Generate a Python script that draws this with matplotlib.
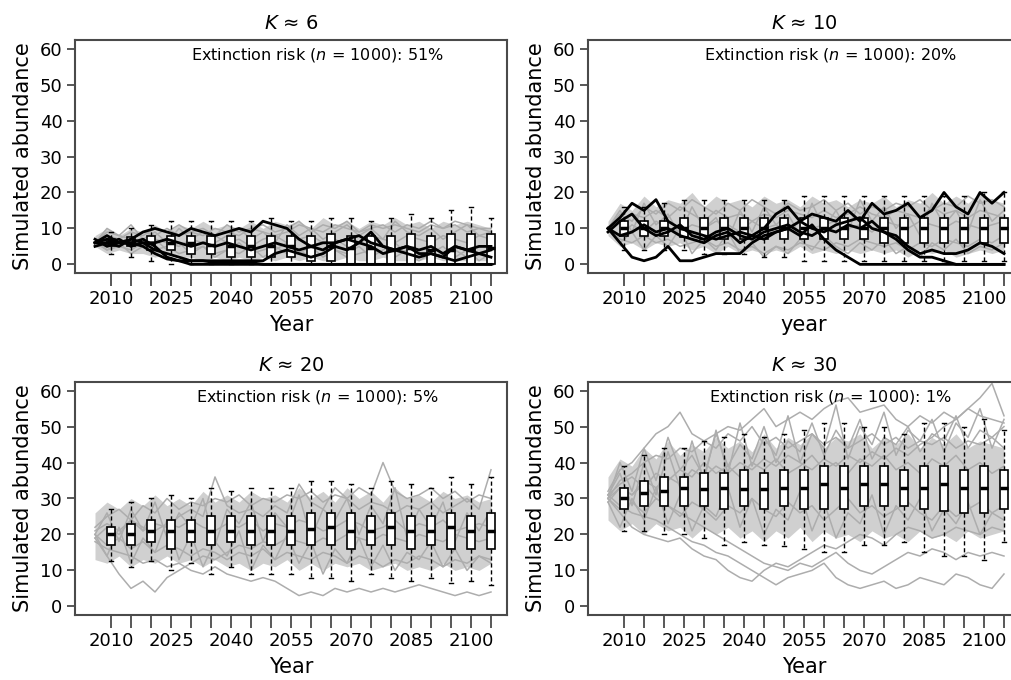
import matplotlib
matplotlib.use("Agg")
import matplotlib.pyplot as plt

plt.rcParams['font.family'] = ['DejaVu Sans']

# simulated years (every 3rd year of the runs) and boxplot years
YEARS = list(range(2006, 2106, 3))
BOX_YEARS = list(range(2010, 2106, 5))
TICK_LABELS = ['2010', '', '', '2025', '', '', '2040', '', '', '2055', '', '',
               '2070', '', '', '2085', '', '', '2100', '']

# ---- K ~ 6 ----
K6_BAND_LO = [5, 3, 4, 3, 3, 2, 3, 2, 2, 1, 2, 1, 2, 1, 2, 1, 2,
              1, 2, 1, 1, 2, 1, 1, 2, 1, 1, 1, 2, 1, 1, 1, 1, 1]
K6_BAND_HI = [8, 10, 8, 10, 9, 11, 9, 11, 10, 12, 10, 11, 10, 12, 10, 12, 11,
              12, 10, 13, 11, 12, 10, 12, 11, 13, 11, 12, 10, 12, 11, 12, 11, 10]
K6_GREY = [
    [6, 8, 7, 9, 8, 10, 9, 11, 9, 10, 8, 11, 9, 10, 11, 9, 10, 12, 9, 11, 10, 12, 9, 10, 11, 9, 11, 10, 12, 10, 11, 9, 10, 9],
    [6, 5, 7, 6, 5, 7, 6, 5, 7, 6, 8, 6, 7, 5, 7, 8, 6, 7, 8, 6, 7, 5, 6, 8, 7, 6, 8, 7, 6, 8, 7, 6, 8, 7],
    [7, 4, 5, 4, 6, 4, 5, 3, 4, 5, 3, 4, 6, 3, 4, 5, 3, 4, 2, 3, 4, 2, 3, 4, 3, 2, 4, 3, 2, 3, 4, 2, 3, 2],
    [6, 9, 8, 7, 9, 8, 10, 8, 9, 8, 10, 9, 8, 10, 9, 8, 9, 11, 10, 9, 11, 10, 9, 11, 10, 11, 10, 9, 11, 10, 12, 11, 10, 10],
    [6, 10, 8, 11, 7, 9, 6, 10, 7, 9, 6, 8, 10, 7, 9, 6, 11, 8, 10, 7, 9, 11, 8, 10, 7, 12, 9, 8, 10, 7, 9, 11, 8, 9],
    [6, 4, 6, 3, 5, 7, 4, 6, 3, 5, 2, 4, 3, 5, 2, 4, 6, 3, 5, 2, 4, 3, 5, 2, 4, 6, 3, 1, 3, 5, 2, 4, 1, 3],
]
K6_BLACK = [
    [6, 8, 6, 7, 9, 10, 9, 8, 10, 9, 8, 9, 10, 9, 12, 11, 10, 7, 5, 6, 6, 7, 8, 6, 5, 4, 5, 4, 5, 3, 5, 4, 5, 5],
    [6, 7, 6, 6, 7, 5, 2, 1, 0, 0, 0, 0, 0, 0, 0, 0, 0, 0, 0, 0, 0, 0, 0, 0, 0, 0, 0, 0, 0, 0, 0, 0, 0, 0],
    [7, 5, 6, 6, 5, 3, 1.5, 1, 1, 1, 0.5, 0.5, 0.5, 0.5, 0, 0, 0, 0, 0, 0, 0, 0, 0, 0, 0, 0, 0, 0, 0, 0, 0, 0, 0, 0],
    [6, 6, 7, 5, 6, 4, 3, 2, 1, 1, 1, 1, 1, 1, 1, 3, 4, 3, 2, 3, 5, 4, 6, 5, 3, 4, 3, 2, 3, 2, 1, 2, 3, 2],
    [5, 6, 5, 7, 6, 6, 7, 6, 5, 6, 5, 6, 5, 4, 5, 6, 5, 4, 5, 4, 6, 7, 6, 9, 5, 4, 5, 3, 3, 2, 5, 4, 3, 4],
]
# (lower whisker, q1, median, q3, upper whisker)
K6_BOXES = [(3, 5, 6, 7, 9), (2, 5, 6, 7.5, 10), (1, 4, 6, 8, 11), (0, 4, 6, 8, 12),
            (0, 3, 6, 8, 12), (0, 3, 5.5, 8, 12), (0, 2, 5, 8, 12), (0, 2, 5, 8, 12),
            (0, 2, 5, 8, 13), (0, 2, 5, 8, 12), (0, 1, 5, 8, 12), (0, 1, 5, 8.5, 13),
            (0, 0, 4.5, 8, 13), (0, 0, 4.5, 8, 12), (0, 0, 4, 8, 13), (0, 0, 4.5, 8.5, 14),
            (0, 0, 4, 8, 13), (0, 0, 4, 8.5, 15), (0, 0, 4, 8.5, 16), (0, 0, 4.5, 8.5, 13)]

# ---- K ~ 10 ----
K10_BAND_LO = [8, 5, 6, 4, 6, 5, 6, 4, 5, 3, 5, 3, 4, 3, 4, 3, 5, 3, 4, 3, 4,
               3, 4, 3, 4, 2, 4, 3, 4, 2, 3, 4, 3, 4]
K10_BAND_HI = [12, 17, 15, 19, 16, 18, 17, 20, 16, 19, 17, 18, 16, 19, 17, 18,
               16, 19, 17, 18, 16, 18, 17, 19, 16, 18, 17, 20, 17, 19, 17, 20, 18, 17]
K10_GREY = [
    [10, 14, 12, 16, 14, 17, 15, 18, 16, 14, 17, 15, 18, 16, 14, 17, 15, 16, 18, 15, 17, 14, 16, 15, 17, 16, 18, 15, 17, 16, 19, 17, 18, 16],
    [10, 8, 11, 9, 12, 10, 9, 11, 10, 12, 11, 9, 12, 10, 11, 9, 12, 10, 11, 12, 10, 11, 9, 12, 11, 10, 12, 11, 10, 12, 11, 10, 11, 12],
    [10, 7, 6, 8, 6, 7, 5, 6, 7, 5, 6, 4, 5, 3, 5, 4, 6, 5, 4, 6, 5, 7, 6, 5, 6, 4, 6, 5, 7, 6, 5, 7, 6, 8],
    [10, 12, 14, 13, 15, 13, 16, 14, 12, 15, 13, 14, 12, 14, 13, 15, 14, 13, 15, 13, 14, 16, 14, 13, 15, 14, 13, 16, 14, 15, 13, 15, 14, 13],
    [10, 15, 9, 17, 11, 14, 8, 16, 10, 13, 7, 15, 9, 16, 11, 14, 8, 17, 10, 15, 9, 18, 12, 16, 10, 14, 8, 17, 11, 15, 9, 18, 12, 15],
    [10, 6, 9, 4, 8, 5, 10, 3, 7, 4, 9, 3, 6, 2, 5, 3, 7, 4, 8, 5, 3, 6, 4, 7, 3, 5, 2, 6, 4, 7, 3, 5, 4, 6],
]
K10_BLACK = [
    [10, 13, 17, 15, 18, 12, 10, 9, 8, 7, 8, 9, 8, 10, 14, 16, 12, 14, 13, 12, 15, 12, 17, 14, 15, 17, 13, 15, 20, 16, 14, 20, 17, 20],
    [10, 6, 2, 1, 2, 5, 1, 1, 2, 3, 3, 3, 6, 8, 9, 10, 8, 11, 7, 4, 2, 0, 0, 0, 0, 0, 0, 0, 0, 0, 0, 0, 0, 0],
    [9, 12, 14, 10, 8, 9, 11, 8, 7, 9, 10, 8, 7, 9, 10, 11, 9, 8, 10, 9, 11, 10, 12, 9, 7, 4, 2, 2, 1, 0, 0, 0, 0, 0],
    [10, 8, 9, 11, 9, 10, 8, 7, 6, 8, 9, 6, 8, 7, 9, 10, 12, 10, 9, 11, 12, 13, 10, 9, 8, 5, 3, 4, 3, 3, 4, 6, 5, 3],
]
K10_BOXES = [(4, 8, 10, 12, 16), (4, 8, 10, 12, 16), (4, 8, 10, 12, 17), (4, 7.5, 10, 13, 18),
             (3, 7, 10, 13, 18), (3, 7, 10, 13, 18), (3, 7, 10, 13, 18), (2, 7, 10, 13, 18),
             (2, 7, 10, 13, 18), (1, 7, 10, 13, 19), (1, 7, 10, 13, 19), (1, 7, 10, 13, 19),
             (1, 7, 10, 13, 19), (1, 6, 10, 13, 19), (1, 6, 10, 13, 19), (1, 6, 10, 13, 19),
             (1, 6, 10, 13, 19), (1, 6, 10, 13, 19), (1, 6, 10, 13, 20), (1, 6, 10, 13, 20)]

# ---- K ~ 20 ----
K20_BAND_LO = [13, 12, 14, 11, 13, 12, 14, 12, 13, 11, 13, 11, 12, 10, 12, 11, 13,
               10, 12, 10, 12, 11, 12, 10, 11, 12, 10, 11, 10, 12, 10, 11, 10, 12]
K20_BAND_HI = [26, 29, 27, 30, 28, 31, 28, 30, 28, 32, 29, 31, 29, 32, 30, 31, 29,
               33, 30, 32, 29, 33, 30, 32, 29, 33, 30, 31, 29, 32, 30, 31, 29, 30]
K20_GREY = [
    [20, 14, 9, 5, 7, 4, 8, 10, 12, 14, 13, 15, 17, 16, 18, 17, 19, 18, 17, 19, 18, 20, 19, 18, 20, 19, 18, 20, 19, 18, 20, 19, 18, 19],
    [18, 16, 15, 14, 12, 13, 11, 12, 10, 9, 11, 9, 8, 7, 8, 7, 5, 3, 4, 3, 5, 4, 5, 4, 5, 4, 5, 6, 5, 4, 3, 4, 3, 4],
    [22, 25, 27, 24, 28, 26, 30, 27, 29, 28, 30, 29, 31, 28, 30, 29, 31, 30, 32, 29, 31, 30, 33, 31, 40, 32, 30, 31, 33, 30, 32, 29, 31, 30],
    [19, 22, 20, 24, 21, 23, 22, 25, 27, 25, 36, 28, 26, 27, 25, 28, 26, 34, 29, 27, 33, 30, 27, 29, 28, 26, 28, 27, 29, 26, 28, 30, 27, 38],
    [20, 17, 19, 16, 18, 15, 17, 16, 14, 16, 15, 13, 15, 14, 16, 13, 15, 14, 13, 15, 14, 12, 14, 13, 11, 13, 12, 14, 13, 11, 13, 12, 14, 13],
    [21, 23, 21, 24, 22, 21, 23, 22, 24, 22, 21, 23, 22, 24, 21, 23, 22, 24, 23, 21, 22, 24, 23, 21, 22, 24, 21, 23, 22, 24, 21, 22, 23, 22],
    [20, 26, 18, 27, 21, 29, 19, 26, 22, 30, 17, 27, 23, 29, 18, 26, 22, 31, 19, 27, 24, 30, 20, 28, 23, 33, 19, 27, 22, 29, 18, 26, 21, 27],
    [19, 14, 22, 12, 19, 15, 24, 13, 20, 11, 18, 14, 21, 10, 17, 13, 20, 12, 18, 9, 16, 12, 19, 11, 17, 10, 15, 13, 18, 11, 16, 10, 14, 12],
]
K20_BOXES = [(12.7, 17, 20, 22, 27), (11, 17, 20, 23, 29), (12.5, 18, 21, 24, 30), (10, 16, 21, 24, 31),
             (12, 18, 21, 24, 30), (9, 17, 21, 25, 33), (11, 18, 21, 25, 32), (9, 17, 21, 25, 33),
             (9, 17, 21, 25, 33), (9, 17, 21, 25, 33), (8, 17, 21.5, 26, 35), (8, 17, 22, 26, 35),
             (7, 16, 21, 26, 34), (9, 17, 21, 25, 33), (8, 17, 22, 26, 35), (7, 16, 21, 25, 34),
             (8, 17, 21, 25, 33), (6.5, 16, 22, 26, 36), (7, 16, 21, 25, 34), (6, 16, 21, 26, 36)]

# ---- K ~ 30 ----
K30_BAND_LO = [24, 21, 23, 20, 23, 21, 22, 19, 22, 20, 22, 19, 21, 18, 21, 19, 22,
               18, 21, 19, 20, 18, 21, 19, 20, 18, 21, 19, 20, 18, 21, 19, 20, 21]
K30_BAND_HI = [36, 41, 39, 44, 41, 46, 42, 45, 43, 47, 44, 46, 43, 48, 44, 47, 45,
               48, 44, 47, 46, 48, 44, 47, 45, 48, 44, 47, 45, 48, 44, 46, 45, 44]
K30_GREY = [
    [30, 26, 22, 20, 19, 18, 19, 16, 14, 13, 10, 8, 7, 10, 12, 11, 13, 15, 17, 16, 18, 20, 19, 17, 20, 22, 21, 19, 20, 22, 21, 20, 22, 21],
    [31, 28, 26, 25, 24, 22, 20, 18, 17, 15, 14, 12, 10, 8, 6, 8, 9, 10, 12, 8, 6, 5, 6, 7, 5, 6, 8, 7, 6, 9, 8, 6, 5, 9],
    [30, 33, 31, 34, 30, 28, 26, 24, 22, 20, 18, 16, 14, 12, 11, 10, 12, 11, 13, 15, 12, 10, 9, 11, 13, 15, 14, 16, 15, 13, 15, 14, 15, 14],
    [32, 38, 40, 44, 48, 50, 54, 48, 46, 44, 48, 46, 50, 45, 47, 44, 46, 48, 45, 47, 44, 46, 48, 45, 47, 44, 46, 45, 47, 44, 46, 45, 47, 44],
    [30, 35, 37, 40, 42, 41, 44, 43, 46, 48, 50, 49, 52, 55, 50, 52, 54, 52, 55, 57, 58, 54, 55, 56, 52, 50, 53, 51, 54, 52, 55, 53, 52, 51],
    [29, 33, 31, 35, 33, 36, 34, 38, 36, 39, 37, 40, 38, 41, 39, 42, 40, 38, 41, 39, 42, 40, 43, 41, 44, 42, 45, 47, 50, 52, 55, 58, 62, 53],
    [30, 27, 29, 26, 30, 28, 25, 29, 27, 24, 28, 26, 30, 27, 25, 29, 26, 28, 24, 27, 30, 26, 28, 25, 27, 29, 26, 24, 28, 25, 27, 29, 26, 28],
    [31, 34, 36, 33, 37, 35, 38, 36, 40, 37, 39, 36, 40, 38, 41, 37, 39, 42, 38, 40, 37, 41, 39, 42, 38, 40, 37, 41, 39, 42, 38, 40, 37, 39],
    [30, 40, 32, 44, 35, 47, 38, 42, 36, 48, 39, 45, 41, 50, 40, 46, 43, 51, 42, 49, 44, 52, 41, 47, 45, 50, 43, 48, 46, 53, 44, 49, 47, 50],
    [29, 22, 30, 24, 33, 23, 31, 21, 28, 25, 33, 22, 30, 20, 27, 24, 32, 21, 29, 19, 26, 23, 31, 20, 28, 24, 30, 21, 27, 23, 29, 20, 26, 24],
    [31, 37, 28, 40, 31, 43, 33, 46, 35, 49, 37, 51, 39, 47, 42, 53, 40, 48, 44, 56, 41, 50, 45, 54, 42, 49, 46, 52, 43, 51, 47, 55, 44, 52],
]
K30_BOXES = [(21, 27, 30, 33, 39), (21, 28, 31.5, 35, 42), (20, 28, 32, 36, 44), (20, 28, 33, 36, 44),
             (19, 28, 32.7, 37, 46), (17, 27, 33, 37, 47), (18, 28, 32.7, 38, 48), (17, 27, 32.7, 37, 47),
             (16.7, 28, 33, 38, 48), (16, 27, 33, 38, 49), (15, 27, 34, 39, 51), (15, 27, 33, 39, 51),
             (17, 28, 34, 39, 50), (17, 28, 34, 39, 50), (18, 28, 33, 38, 48), (15, 27, 33, 39, 51),
             (14, 26.4, 34, 39, 51), (14, 26, 33, 38, 50), (13, 26, 33, 39, 52), (18, 27, 33, 38, 49)]

PANELS = [
    ("$K$ \u2248 6", "51%", "Year", K6_BAND_LO, K6_BAND_HI, K6_GREY, K6_BLACK, K6_BOXES),
    ("$K$ \u2248 10", "20%", "year", K10_BAND_LO, K10_BAND_HI, K10_GREY, K10_BLACK, K10_BOXES),
    ("$K$ \u2248 20", "5%", "Year", K20_BAND_LO, K20_BAND_HI, K20_GREY, [], K20_BOXES),
    ("$K$ \u2248 30", "1%", "Year", K30_BAND_LO, K30_BAND_HI, K30_GREY, [], K30_BOXES),
]

# axes rectangles in figure pixels: left, top (image is cut at the right edge)
W, H = 1011, 680
AX_W, AX_H = 432, 233
CORNERS = [(75, 40), (588, 40), (75, 382), (588, 382)]

FRAME = '#4a4a4a'
GREY = '#adadad'

fig = plt.figure(figsize=(W / 100, H / 100), dpi=100)

for (title, risk, xlab, lo, hi, greys, blacks, boxes), (left, top) in zip(PANELS, CORNERS):
    ax = fig.add_axes([left / W, (H - top - AX_H) / H, AX_W / W, AX_H / H])

    ax.fill_between(YEARS, lo, hi, color='#d0d0d0', lw=0, zorder=1)
    for run in greys:
        ax.plot(YEARS, run, color=GREY, lw=1.1, zorder=2)

    stats = [dict(whislo=b[0], q1=b[1], med=b[2], q3=b[3], whishi=b[4], fliers=[])
             for b in boxes]
    ax.bxp(stats, positions=BOX_YEARS, widths=2, patch_artist=True, manage_ticks=False,
           boxprops=dict(facecolor='white', edgecolor='black', linewidth=1.2),
           medianprops=dict(color='black', linewidth=2.5, solid_capstyle='butt'),
           whiskerprops=dict(color='black', linewidth=1, linestyle=(0, (3, 2))),
           capprops=dict(color='black', linewidth=1), zorder=3)

    for run in blacks:
        ax.plot(YEARS, run, color='black', lw=2, zorder=4)

    ax.set_xlim(2001, 2109)
    ax.set_ylim(-2.4, 62.4)
    ax.set_xticks(BOX_YEARS)
    ax.set_xticklabels(TICK_LABELS)
    ax.set_yticks(range(0, 61, 10))
    ax.tick_params(axis='x', length=9, width=1.3, color=FRAME, labelsize=13, pad=3)
    ax.tick_params(axis='y', length=6, width=1.3, color=FRAME, labelsize=13, pad=3)
    for sp in ax.spines.values():
        sp.set_color(FRAME)
        sp.set_linewidth(1.5)

    ax.set_title(title, fontsize=14, pad=8)
    ax.set_xlabel(xlab, fontsize=15, labelpad=5)
    ax.set_ylabel("Simulated abundance", fontsize=15, labelpad=5)
    ax.text(2061.5, 58.2, "Extinction risk ($n$ = 1000): " + risk,
            ha='center', va='center', fontsize=11.5, zorder=5)

fig.savefig("out.png", dpi=100)
